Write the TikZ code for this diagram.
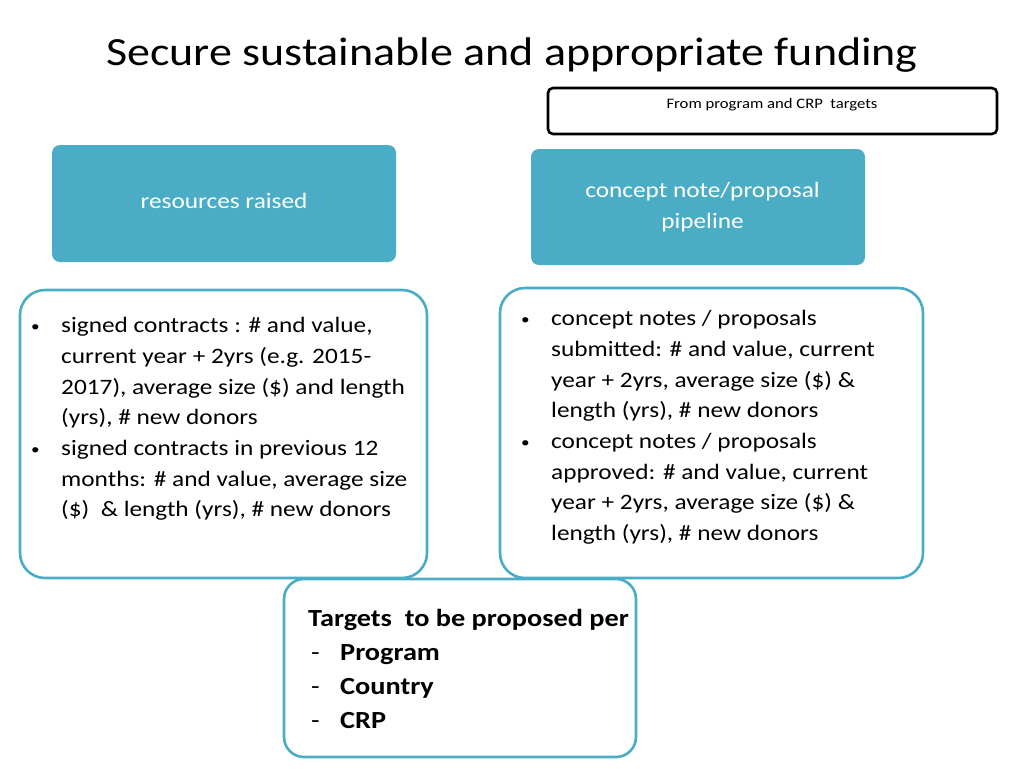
\documentclass[tikz,border=0pt]{standalone}
\usepackage{fontspec}
\setmainfont{Carlito}[FakeStretch=1.15]
\usetikzlibrary{positioning}
\definecolor{boxblue}{HTML}{4BACC6}
\newcommand{\bul}{\raisebox{1pt}{\fontsize{15}{15}\selectfont\textbullet}}

\begin{document}
\begin{tikzpicture}[x=1pt, y=-1pt,
  headbox/.style = {shape=rectangle, rounded corners=8pt, fill=boxblue, text=white, align=center, font=\fontsize{22}{31}\selectfont},
  listbox/.style = {shape=rectangle, rounded corners=25pt, draw=boxblue, line width=2.6pt, fill=white},
  listtext/.style = {anchor=north west, inner sep=0pt, align=left, font=\fontsize{22}{30.7}\selectfont}]
  \useasboundingbox (0,0) rectangle (1024,768);
  \node[font=\fontsize{40}{48}\selectfont] (title) at (512,55) {Secure sustainable and appropriate funding};
  \node[draw, line width=2.6pt, rounded corners=5pt, minimum width=449pt, minimum height=46pt] (from) at (772.5,111) {};
  \node[font=\fontsize{14.5}{17}\selectfont] (fromtxt) at (772,105) {From program and CRP\ \ targets};
  % the two headings
  \node[headbox, minimum width=344pt, minimum height=117pt] (raised) at (224,203.5) {\raisebox{5pt}{resources raised}};
  \node[headbox, minimum width=334pt, minimum height=116pt] (pipe) at (698,207) {\hspace*{9pt}concept note/proposal\\\hspace*{9pt}pipeline};
  % the two lists
  \node[listbox, minimum width=407pt, minimum height=288pt] (leftbox) at (223.5,434) {};
  \node[listtext] (lefttxt) at (31,311) {\begin{tabular}{@{}p{30pt}@{}l@{}}
    \bul & signed contracts : \# and value,\\
     & current year + 2yrs (e.g. 2015-\\
     & 2017), average size (\$) and length\\
     & (yrs), \# new donors\\
    \bul & signed contracts in previous 12\\
     & months: \# and value, average size\\
     & (\$)\ \ \& length (yrs), \# new donors
  \end{tabular}};
  \node[listbox, minimum width=423pt, minimum height=290pt] (rightbox) at (711.5,433) {};
  \node[listtext] (righttxt) at (521,304) {\begin{tabular}{@{}p{30pt}@{}l@{}}
    \bul & concept notes / proposals\\
     & submitted: \# and value, current\\
     & year + 2yrs, average size (\$) \&\\
     & length (yrs), \# new donors\\
    \bul & concept notes / proposals\\
     & approved: \# and value, current\\
     & year + 2yrs, average size (\$) \&\\
     & length (yrs), \# new donors
  \end{tabular}};
  % targets
  \node[listbox, rounded corners=20pt, minimum width=352pt, minimum height=178pt] (target) at (460,668) {};
  \node[listtext, font=\fontsize{24.6}{34}\selectfont\bfseries] (targettxt) at (308,602) {\begin{tabular}{@{}p{32pt}@{}l@{}}
    \multicolumn{2}{@{}l@{}}{Targets\ \ to be proposed per}\\
    \hspace{3pt}\mdseries - & Program\\
    \hspace{3pt}\mdseries - & Country\\
    \hspace{3pt}\mdseries - & CRP
  \end{tabular}};
\end{tikzpicture}
\end{document}
